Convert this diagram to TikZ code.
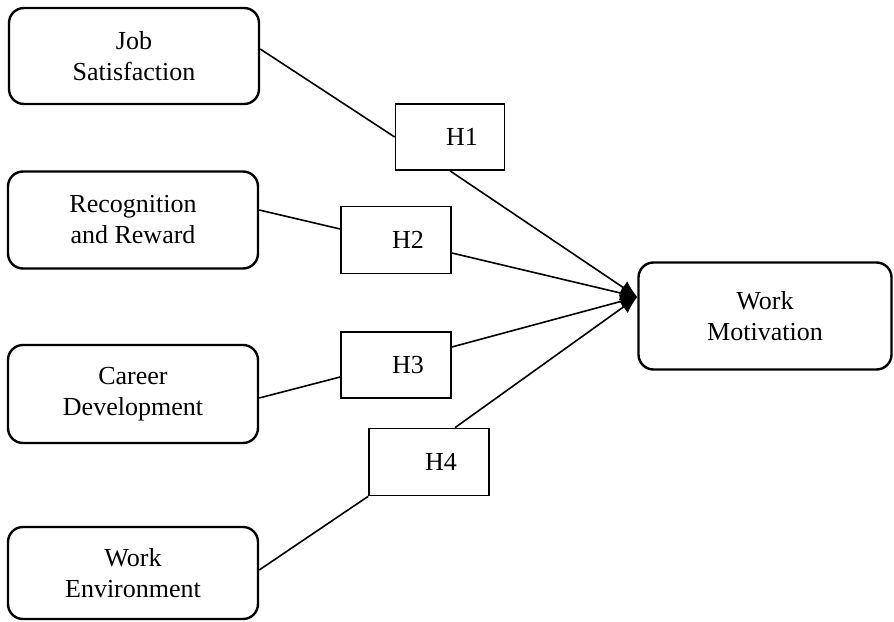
\documentclass[tikz,border=0pt]{standalone}
\usepackage{fontspec}
\setmainfont{Liberation Serif}
\usetikzlibrary{arrows.meta}

\begin{document}
\begin{tikzpicture}[x=1pt, y=-1pt,
  factor/.style={draw, shape=rectangle, line width=2.4pt, rounded corners=15pt,
    minimum width=250pt, align=center, inner sep=0pt,
    font=\fontsize{26}{31}\selectfont},
  hyp/.style={draw, shape=rectangle, line width=1.7pt, minimum width=109pt,
    minimum height=66pt, inner sep=0pt, font=\fontsize{26}{31}\selectfont},
  link/.style={line width=1.6pt},
  effect/.style={line width=1.6pt, -{Latex[length=17pt, width=15pt]}}]
\useasboundingbox (0,0) rectangle (894,621);

\node (js)  [factor, minimum height=96pt] at (134,56)  {Job\\Satisfaction};
\node (rr)  [factor, minimum height=97pt] at (133,220) {Recognition\\and Reward};
\node (cd)  [factor, minimum height=98pt] at (133,394) {Career\\Development};
\node (we)  [factor, minimum height=92pt] at (133,573) {Work\\Environment};
\node (wm)  [factor, minimum width=253pt, minimum height=107pt] at (765,316) {Work\\Motivation};

\node (h1) [hyp] at (450,137) {\hspace{24pt}H1};
\node (h2) [hyp, minimum width=110pt, minimum height=67pt] at (396,240) {\hspace{24pt}H2};
\node (h3) [hyp, minimum width=110pt] at (396,365) {\hspace{24pt}H3};
\node (h4) [hyp, minimum width=120pt, minimum height=67pt] at (429,462) {\hspace{24pt}H4};

\coordinate (tip) at ([yshift=19pt]wm.west);

\draw[link] ([yshift=7pt]js.east) -- (h1.west);
\draw[link] ([yshift=10pt]rr.east) -- ([yshift=11pt]h2.west);
\draw[link] ([yshift=-4pt]cd.east) -- ([yshift=-12pt]h3.west);
\draw[link] ([yshift=3pt]we.east) -- (h4.south west);

\draw[effect] (h1.south) -- (tip);
\draw[effect] ([yshift=-13pt]h2.east) -- (tip);
\draw[effect] ([yshift=18pt]h3.east) -- (tip);
\draw[effect] ([xshift=26pt]h4.north) -- (tip);
\end{tikzpicture}
\end{document}
